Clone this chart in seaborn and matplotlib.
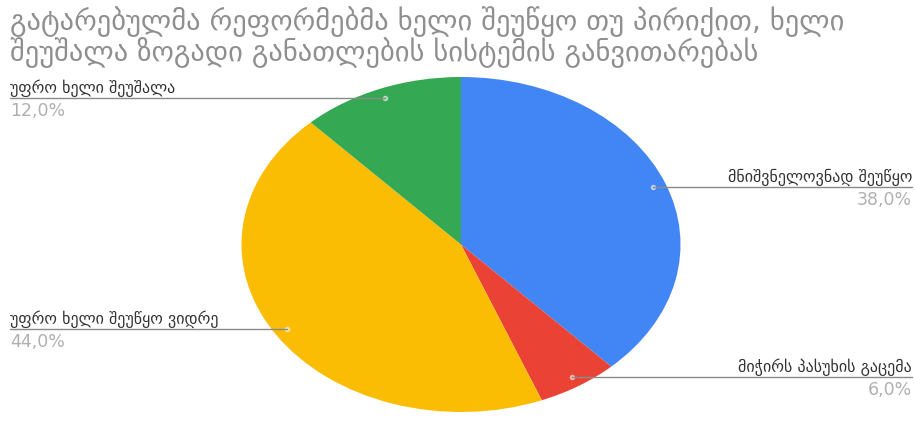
import matplotlib
matplotlib.use("Agg")
import matplotlib.pyplot as plt
import seaborn as sns
import numpy as np
from matplotlib.lines import Line2D

sns.set_theme(style="white")
plt.rcParams['font.family'] = ['DejaVu Sans']

title = "გატარებულმა რეფორმებმა ხელი შეუწყო თუ პირიქით, ხელი\nშეუშალა ზოგადი განათლების სისტემის განვითარებას"
categories = ["მნიშვნელოვნად შეუწყო", "მიჭირს პასუხის გაცემა",
              "უფრო ხელი შეუწყო ვიდრე", "უფრო ხელი შეუშალა"]
values = [38.0, 6.0, 44.0, 12.0]
pct_labels = ["38,0%", "6,0%", "44,0%", "12,0%"]
colors = ["#4285F4", "#EA4335", "#FBBC04", "#34A853"]
label_side = ["right", "right", "left", "left"]

W, H = 915, 427
fig = plt.figure(figsize=(W / 100, H / 100), dpi=100)
fig.patch.set_facecolor("white")

cx, cy, rx, ry = 461, 245.5, 219.5, 167.5
ax = fig.add_axes([(cx - rx) / W, (H - (cy + ry)) / H, 2 * rx / W, 2 * ry / H])
ax.pie(values, colors=colors, startangle=90, counterclock=False, radius=1,
       wedgeprops=dict(linewidth=0))
ax.set_xlim(-1, 1)
ax.set_ylim(-1, 1)
ax.set_aspect('auto')
ax.axis('off')

fig.text(10 / W, 1 - 6 / H, title, ha='left', va='top', fontsize=20.5,
         color='#8f8f8f', linespacing=1.0)

total = sum(values)
cum = 0
fig.canvas.draw()
to_fig = ax.transData + fig.transFigure.inverted()
for v, name, pct, side in zip(values, categories, pct_labels, label_side):
    mid = (cum + v / 2) / total
    cum += v
    theta = np.deg2rad(90 - 360 * mid)
    px, py = 0.94 * np.cos(theta), 0.94 * np.sin(theta)
    fx, fy = to_fig.transform((px, py))
    ax.plot([px], [py], 'o', color='white', markersize=3, alpha=0.5, zorder=5)
    if side == "left":
        x0, x1 = 10 / W, fx
        tx, ha = 10 / W, 'left'
    else:
        x0, x1 = fx, 912 / W
        tx, ha = 912 / W, 'right'
    fig.add_artist(Line2D([x0, x1], [fy, fy], color='#8a8a8a', linewidth=1))
    fig.text(tx, fy + 2 / H, name, ha=ha, va='bottom', fontsize=11.5, color='#333333')
    fig.text(tx, fy - 3 / H, pct, ha=ha, va='top', fontsize=12.5, color='#b0b0b0')

fig.savefig("out.png", dpi=100, facecolor="white")
